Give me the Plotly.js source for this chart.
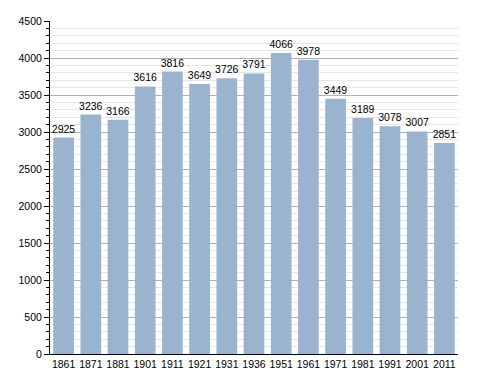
<!DOCTYPE html>
<html>
<head>
<meta charset="utf-8">
<script src="https://cdn.plot.ly/plotly-3.0.1.min.js"></script>
<style>html,body{margin:0;padding:0;background:#fff;}#chart{width:488px;height:373px;}</style>
</head>
<body>
<div id="chart"></div>
<script>
const years = ["1861","1871","1881","1901","1911","1921","1931","1936","1951","1961","1971","1981","1991","2001","2011"];
const population = [2925,3236,3166,3616,3816,3649,3726,3791,4066,3978,3449,3189,3078,3007,2851];
const yTicks = [0,500,1000,1500,2000,2500,3000,3500,4000,4500];

const trace = {
  type: 'bar',
  x: years,
  y: population,
  text: population.map(String),
  textposition: 'outside',
  constraintext: 'none',
  cliponaxis: false,
  textfont: {family: 'Liberation Sans, Arial, sans-serif', size: 10.5, color: '#000'},
  marker: {color: '#9ab3cf'},
  hoverinfo: 'none'
};

const layout = {
  width: 488, height: 373,
  margin: {l: 50, r: 30, t: 21, b: 19},
  paper_bgcolor: '#fff', plot_bgcolor: '#fff',
  bargap: 0.24,
  showlegend: false,
  font: {family: 'Liberation Sans, Arial, sans-serif', size: 10.5, color: '#000'},
  xaxis: {
    type: 'category',
    showline: true, linecolor: '#000', linewidth: 1,
    ticks: '', showgrid: false,
    tickfont: {size: 10.5},
    fixedrange: true
  },
  yaxis: {
    range: [0, 4500],
    tickvals: yTicks,
    showline: true, linecolor: '#000', linewidth: 1,
    ticks: 'outside', ticklen: 5, tickcolor: '#000',
    showgrid: true, gridcolor: '#b0b0b0', gridwidth: 1,
    zeroline: false,
    tickfont: {size: 10.5},
    minor: {dtick: 100, ticks: 'outside', ticklen: 3, tickcolor: '#000', showgrid: true, gridcolor: '#e6e6e6', gridwidth: 1}
  }
};

Plotly.newPlot('chart', [trace], layout, {staticPlot: true, displayModeBar: false});
</script>
</body>
</html>
